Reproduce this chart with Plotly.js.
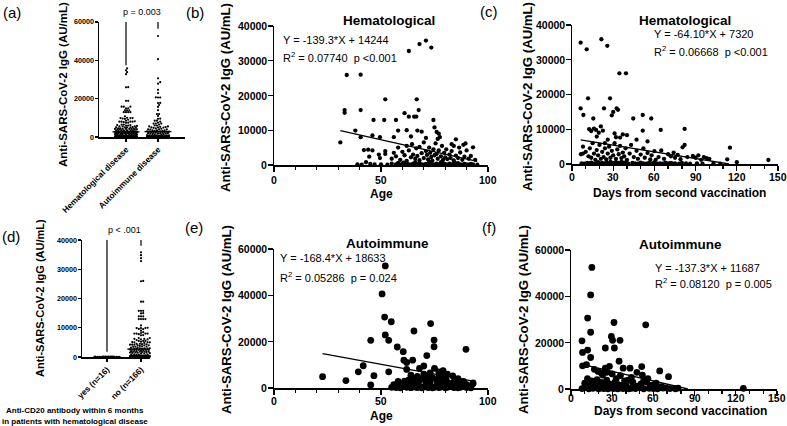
<!DOCTYPE html>
<html><head><meta charset="utf-8">
<script src="https://cdn.plot.ly/plotly-3.0.1.min.js"></script>
<style>html,body{margin:0;padding:0;background:#fff}#chart{width:787px;height:426px}</style>
</head><body><div id="chart"></div>
<script>
// ---------- DATA ----------
// (b) Hematological: age vs IgG
const hemaAge = [31,33,33,34,38,40.5,40.5,40.5,46,46.5,49.5,51.5,52,56,57,58,61,62,63,63,64,65.5,66.5,66.7,67,67.6,68,69,71,71,73.5,74.5,75,76,77,76.5,77.5,83,84,85,93,
 42,44,46,44.5,49,49.5,52,52,43,55,56,57,58,59,60,61,62,62,63,64,64.5,65,66,66.5,67,68,68,69,70,70,71,71.5,72,72.5,73,73.5,74,74.5,75,75.5,76,76.5,77,78,78.5,79,79.5,80,80.5,81,82,82.5,83,84,85,86,87,88,89,90,91,92,94,86.5,88.5,89.5,
 39,41,45,47,50,53,55,57,58,59,60,61,62,63,64,65,66,67,68,69,70,71,72,73,74,75,76,77,78,79,80,81,82,83,84,85,86,87,88,89,90,91,92,93,95,60.5,66,72.5,78,84.5];
const hemaIgG = [6500,15800,15000,25900,9900,26000,15800,8000,8500,12950,8000,12950,18900,8000,12950,9900,14900,10000,32800,13900,8200,13900,13900,18900,9900,15800,34800,9600,35800,7800,33800,12950,10800,9500,9000,7500,8000,6000,5500,7400,5100,
 4300,4400,4200,2400,3000,2000,4000,3200,800,1800,3500,2500,5000,1500,3800,2800,5500,1200,4200,2200,6000,3000,1800,4800,2600,5200,1400,3400,2000,6500,4000,2900,1600,5000,3500,2300,1200,4500,2800,6200,3200,1800,4200,2500,5500,1500,3500,2200,4500,1700,3000,2000,4000,1300,2700,2000,3600,1500,2400,4200,1800,2600,1500,5000,5800,6200,
 200,100,300,150,200,100,400,200,600,100,300,150,500,200,100,400,250,100,500,200,100,350,150,600,200,100,400,200,100,500,250,100,400,150,300,100,500,200,100,350,150,100,300,200,100,700,800,900,800,700];
// (c) Hematological: days from second vaccination vs IgG
const hemaDays = [6.3,10.7,21.4,25.7,34.5,39.3,27.7,11.7,6.3,23.3,32.5,33.5,30,8.3,15.5,29,44.6,51.5,57.7,51.5,64.6,82,12.5,14,16,17.5,19.5,21,22.5,18,32,35,37,40,31,26,24,47,55,6.5,8,82,80.5,115,113,120,143,
 8,10,12,13,14,15,16,17,18,19,20,21,22,23,24,25,26,27,28,29,30,31,32,33,34,35,36,37,38,39,40,42,43,45,47,48,50,52,53,55,57,58,60,61,63,65,67,70,72,74,75,77,79,84,88,90,92,96,98,100,94,
 7,9,11,12.5,14,15,17,19,20,22,24,25,27,28,29,30,31,32,33,34,35,36,37,38,40,41,44,46,48,50,52,54,56,58,60,62,64,66,68,70,72,73,75,78,80,83,86,91,95,103,108];
const hemaDaysIgG = [34900,33000,35900,34000,26100,26100,18900,18900,16000,16000,16000,15600,15000,14100,13100,14000,13100,14100,13100,9600,9800,10100,10000,9500,10200,9800,9000,10800,9600,7900,7700,7600,8500,8300,8800,7000,6000,7000,6500,2800,3000,5500,4800,4700,1350,500,1150,
 5000,3500,2200,4500,1800,6000,3000,1200,4000,2500,5500,1500,3500,2000,4500,1300,3000,5000,1800,3800,2500,6000,1500,4200,2800,5200,1700,3300,2200,4500,1200,3000,5500,2000,3800,1500,2700,4500,1800,3200,1300,2500,3700,1200,2000,3900,1500,2800,2200,3300,1800,2600,1400,2000,2300,1800,2500,2000,1700,1500,1200,
 200,100,300,150,400,100,200,500,150,300,100,400,200,600,100,300,150,500,100,300,200,600,100,400,200,100,300,150,100,400,200,100,300,150,500,100,200,100,400,150,300,100,200,100,300,150,100,200,100,150,100];
// (e) Autoimmune: age vs IgG
const autoAge = [52,50.5,51.7,54.8,52,53.6,45.2,57.6,60.4,65.4,73.2,74.8,74.8,89.7,71.4,60.7,62,64.8,70,68,41.7,39.4,53.6,46.7,22.7,33.6,45.2,61,65,75,77,78,79,89,88.5,80,83,
 62,64,69,71,73,74,76,77.5,80.5,82,79,83.5,85,87,88,90,93,
 55,57,58,59,60,62,63,64,66,67,68,69,70,71,72,73,74,75,76,77,78,80,81,82,84,85,86,87,90,92,
 56,58,59,62,63,65,66,67,68,70,71,72,73,76,77,79,81,84,86,93];
const autoIgG = [52700,40600,30600,28600,22900,20600,20600,17700,15700,24600,27800,20700,17800,16700,14000,12000,11000,12000,9500,8500,9600,7000,7000,5300,4900,3200,1300,3000,4000,8500,7000,5500,4300,2000,2800,800,800,
 8000,5500,4000,2000,2500,4500,1000,2200,3500,2000,7500,5200,3000,1200,600,1500,1800,
 300,200,500,100,800,300,600,150,400,200,700,100,400,800,200,500,100,300,600,200,400,100,300,600,200,400,100,300,200,100,
 1500,2800,1800,2200,3500,1800,2800,5000,3200,6000,3800,5000,6500,3500,4800,2800,6000,2500,4000,2200];
// (f) Autoimmune: days from second vaccination vs IgG
const autoDays = [15.2,14.3,12.1,31.3,54.4,14.3,8,12.1,8.4,14.3,29.4,30.3,35.7,25,31.6,8.4,11.3,19.7,25,28,35,38,43,51.5,64.6,71,52,56,41.5,45,18,21,12,125.5,78,
 17,22,23,26,30,33,36,39,45,48,55,60,66,69,
 8,10,13,16,18,20,22,24,26,27,29,31,32,34,36,38,40,42,44,47,50,53,57,60,63,67,72,76,
 10,13,15,17,19,22,24,26,28,30,32,34,37,40,44,48,51,53,58,62];
const autoDaysIgG = [52500,40600,30600,28700,27700,24500,20800,16800,15800,13600,22700,21000,21000,17700,17700,10000,10500,7600,9000,9800,12000,9000,9000,9700,7800,5300,6000,4500,3800,3000,2600,2000,4500,300,400,
 8500,7000,6000,7200,6500,4500,5800,3500,1500,7200,3000,1800,1000,500,
 200,500,100,300,600,100,400,200,800,100,500,200,700,100,400,200,600,100,300,200,500,100,300,200,100,400,200,100,
 2500,1500,3500,1200,4000,2800,1600,3800,2200,1400,3000,2000,1500,2500,5000,1200,2200,3800,1600,2500];
// (d) anti-CD20 within 6 months: yes group (n=16) values
const cd20YesIgG = [0,20,50,10,80,30,100,0,60,40,120,15,70,25,90,5];
// Regression results printed in the figure
const fitB = {m:-139.3, b:14244, eq:'Y = -139.3*X + 14244', r2:'R<sup>2</sup> = 0.07740\u00a0\u00a0p <0.001'};
const fitC = {m:-64.10, b:7320, eq:'Y = -64.10*X + 7320', r2:'R<sup>2</sup> = 0.06668\u00a0\u00a0p <0.001'};
const fitE = {m:-168.4, b:18633, eq:'Y = -168.4*X + 18633', r2:'R<sup>2</sup> = 0.05286\u00a0\u00a0p = 0.024'};
const fitF = {m:-137.3, b:11687, eq:'Y = -137.3*X + 11687', r2:'R<sup>2</sup> = 0.08120\u00a0\u00a0p = 0.005'};
const catA = ['Hematological disease','Autoimmune disease'];
const catD = ['yes (n=16)','no (n=166)'];
// tick values
const ticks40k = [0,10000,20000,30000,40000];
const ticks60k = [0,20000,40000,60000];
const ticksAge = [0,50,100];
const ticksDays = [0,30,60,90,120,150];

// ---------- LAYOUT HELPERS ----------
const W=787, H=426, F='Liberation Sans, Arial, sans-serif';
const px = x => x/W, py = y => 1 - y/H;
function swarm(values, pxPerY, pxPerX, d, maxHalf){
  const idx = values.map((v,i)=>i).sort((a,b)=>values[a]-values[b]);
  const placed=[], offs=new Array(values.length), step=d*0.5, cands=[0];
  for(let k=1;k*step<=maxHalf;k++){cands.push(k*step);cands.push(-k*step);}
  idx.forEach(i=>{
    const y=values[i]*pxPerY; let best=0, bestScore=-1;
    for(const c of cands){
      let minD=Infinity;
      for(const p of placed){ if(Math.abs(p.y-y)<d){const dd=Math.hypot(p.x-c,p.y-y); if(dd<minD)minD=dd;} }
      if(minD>=d*0.95){best=c;bestScore=Infinity;break;}
      if(minD>bestScore){bestScore=minD;best=c;}
    }
    placed.push({x:best,y}); offs[i]=best/pxPerX;
  });
  return offs;
}
const median = a => {const s=[...a].sort((x,y)=>x-y), n=s.length; return n%2? s[(n-1)/2] : (s[n/2-1]+s[n/2])/2;};
function fitLine(fit, xs){
  const x0=Math.min(...xs); let x1=Math.max(...xs);
  const root=-fit.b/fit.m; if(root<x1) x1=root;
  return {x:[x0,x1], y:[fit.m*x0+fit.b, fit.m*x1+fit.b]};
}

const traces=[];
function col(vals, pos, xa, ya, pxY, pxX, size, maxHalf){
  const off = swarm(vals, pxY, pxX, size, maxHalf);
  traces.push({type:'scatter', mode:'markers', x: vals.map((v,i)=>pos+off[i]), y: vals, xaxis:xa, yaxis:ya,
    marker:{size:size, color:'#000'}, cliponaxis:false, hoverinfo:'skip'});
}
function scat(xs, ys, xa, ya, size, fit){
  traces.push({type:'scatter', mode:'markers', x:xs, y:ys, xaxis:xa, yaxis:ya, marker:{size:size,color:'#000'}, cliponaxis:false, hoverinfo:'skip'});
  const l=fitLine(fit, xs);
  traces.push({type:'scatter', mode:'lines', x:l.x, y:l.y, xaxis:xa, yaxis:ya, line:{color:'#000', width:1.3}, cliponaxis:false, hoverinfo:'skip'});
}
// (a)
col(hemaIgG, 0, 'x', 'y', 115/60000, 32, 2.2, 12);
col(autoIgG, 1, 'x', 'y', 115/60000, 32, 2.2, 11);
// (d)
col(cd20YesIgG, 0, 'x4', 'y4', 117/40000, 34, 2.4, 13);
col(hemaIgG, 1, 'x4', 'y4', 117/40000, 34, 2.2, 12);
// scatter panels
scat(hemaAge, hemaIgG, 'x2', 'y2', 4.3, fitB);
scat(hemaDays, hemaDaysIgG, 'x3', 'y3', 4.3, fitC);
scat(autoAge, autoIgG, 'x5', 'y5', 6.8, fitE);
scat(autoDays, autoDaysIgG, 'x6', 'y6', 6.8, fitF);

function ax(extra){
  return Object.assign({showline:true, linecolor:'#000', linewidth:1.5, ticks:'outside', tickcolor:'#000', tickwidth:1.4, ticklen:5,
    showgrid:false, zeroline:false, tickformat:'d', fixedrange:true, showticklabels:false}, extra);
}
const minorX={dtick:10, ticks:'outside', ticklen:3, tickcolor:'#000', tickwidth:1.3};
const catFont={family:F, size:8.3, weight:700, color:'#000'};
const layout = {
  width:W, height:H, margin:{l:0,r:0,t:0,b:0}, paper_bgcolor:'#fff', plot_bgcolor:'rgba(0,0,0,0)', showlegend:false,
  font:{family:F, color:'#000'},
  // (a)
  xaxis: ax({domain:[px(99),px(185)], range:[-0.844,1.844], anchor:'y', tickvals:[0,1], ticktext:catA, tickangle:-45, ticklen:3, showticklabels:true, tickfont:catFont}),
  yaxis: ax({domain:[py(137),py(22)], range:[0,60000], anchor:'x', tickvals:ticks60k, ticklen:3}),
  // (b)
  xaxis2: ax({domain:[px(274),px(488)], range:[0,100], anchor:'y2', tickvals:ticksAge, minor:minorX}),
  yaxis2: ax({domain:[py(165),py(26)], range:[0,40000], anchor:'x2', tickvals:ticks40k}),
  // (c)
  xaxis3: ax({domain:[px(572),px(778)], range:[0,150], anchor:'y3', tickvals:ticksDays, minor:minorX}),
  yaxis3: ax({domain:[py(164),py(25)], range:[0,40000], anchor:'x3', tickvals:ticks40k}),
  // (d)
  xaxis4: ax({domain:[px(82),px(150)], range:[-0.735,1.265], anchor:'y4', tickvals:[0,1], ticktext:catD, tickangle:-45, ticklen:3, showticklabels:true, tickfont:catFont}),
  yaxis4: ax({domain:[py(357),py(240)], range:[0,40000], anchor:'x4', tickvals:ticks40k, ticklen:3}),
  // (e)
  xaxis5: ax({domain:[px(274),px(488)], range:[0,100], anchor:'y5', tickvals:ticksAge, minor:minorX}),
  yaxis5: ax({domain:[py(388),py(249)], range:[0,60000], anchor:'x5', tickvals:ticks60k}),
  // (f)
  xaxis6: ax({domain:[px(571),px(777)], range:[0,150], anchor:'y6', tickvals:ticksDays, minor:minorX}),
  yaxis6: ax({domain:[py(389),py(250)], range:[0,60000], anchor:'x6', tickvals:ticks60k}),
  shapes:[], annotations:[]
};
const L = {color:'#000', width:1.2};
// brackets
layout.shapes.push({type:'path', xref:'x', yref:'y', path:`M0,37500 L0,61000 L1,61000 L1,56500`, line:L});
layout.shapes.push({type:'path', xref:'x4', yref:'y4', path:`M0,1800 L0,40300 L1,40300 L1,38000`, line:L});
// median lines
function med(vals, pos, xr, yr, half){ const m=median(vals); layout.shapes.push({type:'line', xref:xr, yref:yr, x0:pos-half, x1:pos+half, y0:m, y1:m, line:{color:'#000', width:1.4}}); }
med(hemaIgG,0,'x','y',0.42); med(autoIgG,1,'x','y',0.42);
med(cd20YesIgG,0,'x4','y4',0.4); med(hemaIgG,1,'x4','y4',0.4);

function ann(text,x,y,size,opts){
  layout.annotations.push(Object.assign({text, x:px(x), y:py(y), xref:'paper', yref:'paper', showarrow:false,
    xanchor:'center', yanchor:'middle', font:{family:F, size, color:'#000'}}, opts||{}));
}
const B = s => ({family:F, size:s, weight:700, color:'#000'});
// bold tick labels (drawn as text at axis values)
function yLabels(vals, yref, rightPx, size){
  vals.forEach(v=>layout.annotations.push({text:String(v), xref:'paper', x:px(rightPx), yref, y:v, xanchor:'right', yanchor:'middle',
    showarrow:false, font:B(size)}));
}
function xLabels(vals, xref, centerYpx, size){
  vals.forEach(v=>layout.annotations.push({text:String(v), xref, x:v, yref:'paper', y:py(centerYpx), xanchor:'center', yanchor:'middle',
    showarrow:false, font:B(size)}));
}
yLabels(ticks60k,'y',96,7.2);
yLabels(ticks40k,'y4',79,7.2);
yLabels(ticks40k,'y2',269,10.5); xLabels(ticksAge,'x2',180,10.5);
yLabels(ticks40k,'y3',567,10.5); xLabels(ticksDays,'x3',177,10.5);
yLabels(ticks60k,'y5',269,10.5); xLabels(ticksAge,'x5',401,10.5);
yLabels(ticks60k,'y6',566,10.5); xLabels(ticksDays,'x6',397.5,10.5);
// panel letters
ann('(a)',12,13,15); ann('(b)',195,13,15); ann('(c)',489,12,15);
ann('(d)',11,236,15); ann('(e)',194,228,15); ann('(f)',489,228,15);
// y titles
const yt='Anti-SARS-CoV-2 IgG (AU/mL)';
ann(yt,63,85,11.5,{textangle:-90, font:B(11.5)});
ann(yt,40,298,11,{textangle:-90, font:B(11)});
ann(yt,225,97,13.2,{textangle:-90, font:B(13.2)});
ann(yt,527,97,13.2,{textangle:-90, font:B(13.2)});
ann(yt,226,320,13.2,{textangle:-90, font:B(13.2)});
ann(yt,523,320,13.2,{textangle:-90, font:B(13.2)});
// x titles
ann('Age',381,194,12,{font:B(12)});
ann('Days from second vaccination',679,193,12,{font:B(12)});
ann('Age',381,416,12,{font:B(12)});
ann('Days from second vaccination',680,411,12,{font:B(12)});
ann('Anti-CD20 antibody within 6 months',75,410,8,{font:B(8)});
ann('in patients with hematological disease',75,421,8,{font:B(8)});
// panel titles
ann('Hematological',389,20,13.5,{font:B(13.5)});
ann('Hematological',685,20,13.5,{font:B(13.5)});
ann('Autoimmune',387,243,13.5,{font:B(13.5)});
ann('Autoimmune',680,244,13.5,{font:B(13.5)});
// equations
ann(fitB.eq,281,40,11,{xanchor:'left'}); ann(fitB.r2,281,57,11,{xanchor:'left'});
ann(fitC.eq,652,34,11,{xanchor:'left'}); ann(fitC.r2,652,51,11,{xanchor:'left'});
ann(fitE.eq,278,258,11,{xanchor:'left'}); ann(fitE.r2,278,277,11,{xanchor:'left'});
ann(fitF.eq,653,268,11,{xanchor:'left'}); ann(fitF.r2,653,283,11,{xanchor:'left'});
// p-values
ann('p = 0.003',142,12,9); ann('p < .001',124,230,9);

Plotly.newPlot('chart', traces, layout, {staticPlot:true, displayModeBar:false});
</script></body></html>
